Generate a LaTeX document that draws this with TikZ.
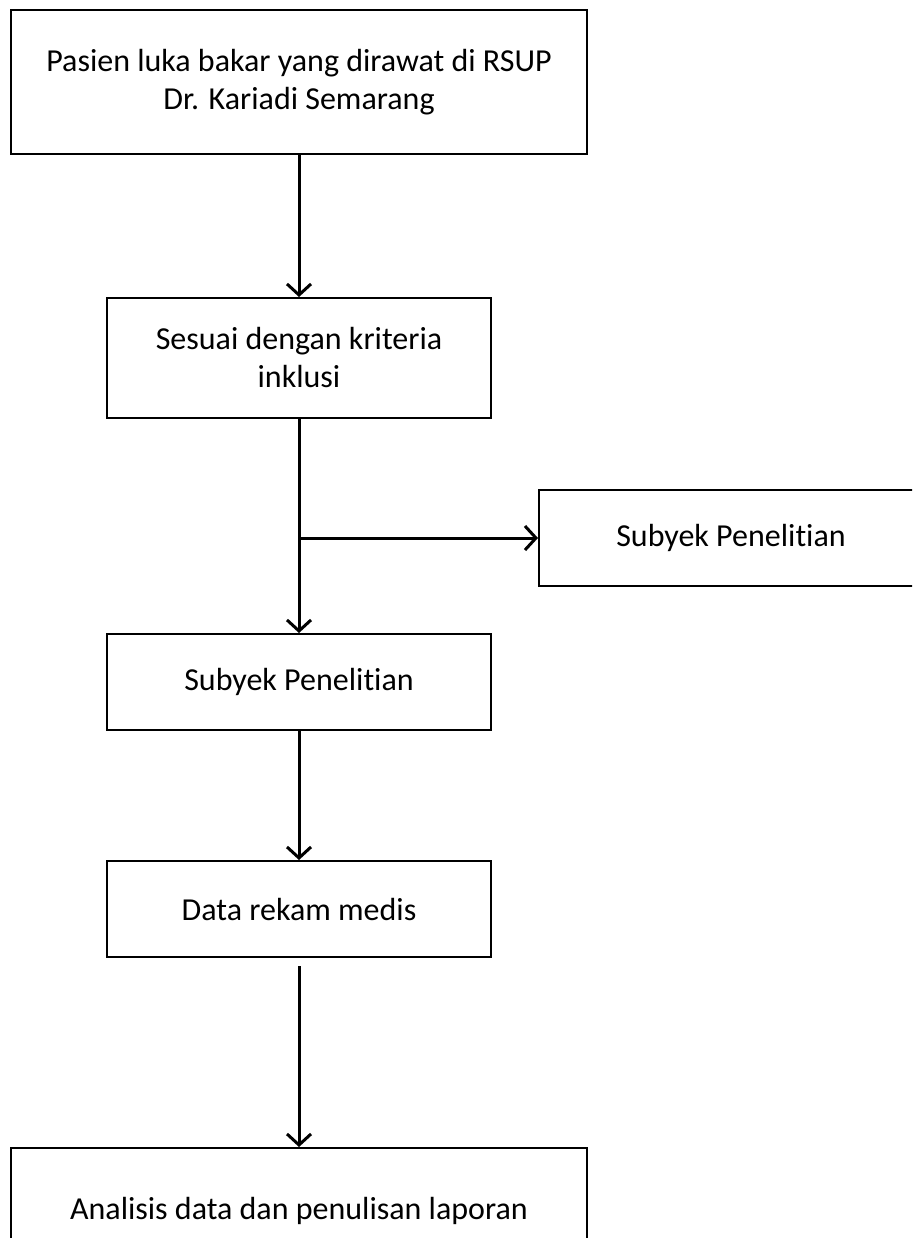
\documentclass[tikz,border=0pt]{standalone}
\usepackage{fontspec}
\setmainfont{Carlito}[Ligatures=CommonOff]
\usetikzlibrary{arrows.meta}
\begin{document}
\begin{tikzpicture}[x=1pt,y=-1pt,
  box/.style={draw, line width=2pt, align=center, inner sep=0pt,
    font=\fontsize{32}{38}\selectfont},
  wide/.style={box, minimum width=576pt},
  narrow/.style={box, minimum width=384pt},
  arr/.style={line width=3pt, -{Straight Barb[length=11pt,width=24pt,line width=3pt]}}]
\useasboundingbox (0,0) rectangle (912,1238);
\clip (0,0) rectangle (912,1238);
\node[wide, minimum height=144pt] (b1) at (299,82) {Pasien luka bakar yang dirawat di RSUP\\Dr. Kariadi Semarang};
\node[narrow, minimum height=120pt] (b2) at (299,358) {Sesuai dengan kriteria\\inklusi};
\node[narrow, minimum height=96pt] (br) at (731,538) {Subyek Penelitian};
\node[narrow, minimum height=96pt] (b4) at (299,682) {Subyek Penelitian};
\node[narrow, minimum height=96pt] (b5) at (299,909) {Data rekam medis};
\node[wide, minimum height=126pt] (b6) at (299,1211) {Analisis data dan penulisan laporan};
\coordinate (j) at (b2.south |- br.west);
\draw[arr] (b1.south) -- (b2.north);
\draw[arr] (b2.south) -- (b4.north);
\draw[arr] (j) -- (br.west);
\draw[arr] (b4.south) -- (b5.north);
\draw[arr, shorten <=8pt] (b5.south) -- (b6.north);
\end{tikzpicture}
\end{document}
